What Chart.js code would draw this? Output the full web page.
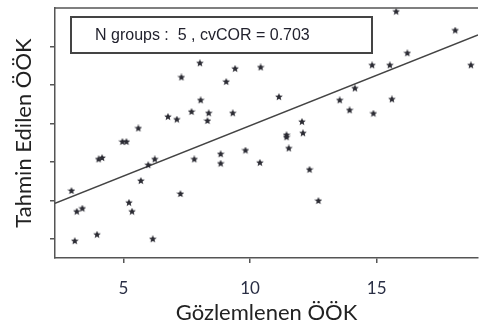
<!DOCTYPE html>
<html lang="tr">
<head>
    <meta charset="UTF-8">
    <title>Gözlemlenen / Tahmin Edilen ÖÖK</title>
    <script src="https://cdn.jsdelivr.net/npm/chart.js"></script>
    <style>
        body {
            margin: 0;
            background: #fff;
            overflow: hidden;
        }
        canvas {
            display: block;
        }
    </style>
</head>
<body>
    <canvas id="scatter" width="483" height="331"></canvas>

    <script>
        // Gözlemlenen (x) ve tahmin edilen (y) değerler
        var observed = [
            8.02, 7.29, 9.41, 9.06, 8.05, 7.69, 8.37, 8.32, 9.32, 6.76,
            7.11, 5.59, 4.96, 5.12, 4.02, 4.16, 5.98, 6.24, 7.80, 8.84,
            8.84, 9.82, 10.42, 11.14, 13.54, 12.05, 12.09, 11.44, 11.44, 11.53,
            10.39, 12.35, 12.70, 15.77, 18.10, 16.21, 14.82, 15.52, 18.72, 14.14,
            15.60, 13.93, 14.87, 5.69, 2.95, 7.25, 5.22, 3.16, 3.38, 5.34,
            3.96, 3.08, 6.16
        ];
        var predicted = [
            13.13, 12.39, 12.84, 12.16, 11.20, 10.60, 10.53, 10.13, 10.53, 10.34,
            10.20, 9.74, 9.04, 9.04, 8.13, 8.20, 7.83, 8.13, 8.13, 8.40,
            7.91, 8.59, 12.91, 11.37, 11.20, 10.08, 9.49, 9.39, 9.28, 8.70,
            7.95, 7.59, 5.97, 15.81, 14.83, 13.65, 13.02, 13.02, 13.02, 11.82,
            11.25, 10.68, 10.51, 7.01, 6.49, 6.33, 5.87, 5.41, 5.57, 5.41,
            4.21, 3.88, 3.98
        ];

        // Regresyon doğrusunun uç noktaları
        var fitX = [2.3, 19];
        var fitY = [5.84, 14.6];

        var xTicks = [5, 10, 15];
        var yTicks = [4, 6, 8, 10, 12, 14];
        var noteText = 'N groups :  5 , cvCOR = 0.703';

        // Küçük dolu yıldız işareti
        function makeStar(size, color) {
            var c = document.createElement('canvas');
            c.width = size; c.height = size;
            var g = c.getContext('2d');
            var cx = size / 2, cy = size / 2, R = size / 2, r = R * 0.45;
            g.beginPath();
            for (var i = 0; i < 10; i++) {
                var ang = -Math.PI / 2 + i * Math.PI / 5;
                var rad = (i % 2 === 0) ? R : r;
                g.lineTo(cx + rad * Math.cos(ang), cy + rad * Math.sin(ang));
            }
            g.closePath();
            g.fillStyle = color;
            g.fill();
            return c;
        }
        var star = makeStar(8, '#2b2b33');

        var points = observed.map(function(v, i) {
            return { x: v, y: predicted[i] };
        });
        var fitLine = fitX.map(function(v, i) {
            return { x: v, y: fitY[i] };
        });

        // Üst çerçeve çizgisi ve bilgi kutusu
        var frameAndNote = {
            id: 'frameAndNote',
            afterDraw: function(chart) {
                var ctx = chart.ctx, a = chart.chartArea;
                ctx.save();
                ctx.strokeStyle = '#555';
                ctx.lineWidth = 1.5;
                ctx.beginPath();
                ctx.moveTo(a.left, a.top);
                ctx.lineTo(a.right, a.top);
                ctx.stroke();

                ctx.strokeStyle = '#444';
                ctx.lineWidth = 2;
                ctx.strokeRect(a.left + 16, a.top + 9, 301, 36);
                ctx.fillStyle = '#22222e';
                ctx.font = '16px "Liberation Sans", Arial, sans-serif';
                ctx.textBaseline = 'middle';
                ctx.fillText(noteText, a.left + 40, a.top + 28);
                ctx.restore();
            }
        };

        var axisFont = { family: 'Lato, "Open Sans", sans-serif' };

        new Chart(document.getElementById('scatter').getContext('2d'), {
            type: 'scatter',
            data: {
                datasets: [{
                    label: 'ÖÖK',
                    data: points,
                    pointStyle: star,
                    pointRadius: 4,
                    borderColor: '#2b2b33',
                    backgroundColor: '#2b2b33'
                }, {
                    type: 'line',
                    label: 'fit',
                    data: fitLine,
                    borderColor: '#444',
                    borderWidth: 1.5,
                    pointRadius: 0,
                    fill: false
                }]
            },
            options: {
                responsive: false,
                animation: false,
                devicePixelRatio: 1,
                layout: { padding: { top: 8, right: 0, left: 0, bottom: 0 } },
                plugins: {
                    legend: { display: false },
                    tooltip: { enabled: false }
                },
                scales: {
                    x: {
                        type: 'linear',
                        min: 2.3,
                        max: 19,
                        afterFit: function(s) { s.height = 73; },
                        afterBuildTicks: function(s) {
                            s.ticks = xTicks.map(function(v) { return { value: v }; });
                        },
                        grid: { drawOnChartArea: false, drawTicks: true, tickLength: 5, color: '#555', lineWidth: 1.5 },
                        border: { display: true, color: '#555', width: 1.5 },
                        ticks: {
                            color: '#2a2f45',
                            padding: 15,
                            font: Object.assign({ size: 17 }, axisFont)
                        },
                        title: {
                            display: true,
                            text: 'Gözlemlenen ÖÖK',
                            color: '#222',
                            padding: { top: 0, bottom: 5 },
                            font: Object.assign({ size: 22 }, axisFont)
                        }
                    },
                    y: {
                        type: 'linear',
                        min: 3,
                        max: 16,
                        afterFit: function(s) { s.width = 55; },
                        afterBuildTicks: function(s) {
                            s.ticks = yTicks.map(function(v) { return { value: v }; });
                        },
                        grid: { drawOnChartArea: false, drawTicks: true, tickLength: 5, color: '#555', lineWidth: 1.5 },
                        border: { display: true, color: '#555', width: 1.5 },
                        ticks: { display: false },
                        title: {
                            display: true,
                            text: 'Tahmin Edilen ÖÖK',
                            color: '#222',
                            padding: { top: 11, bottom: 0 },
                            font: Object.assign({ size: 22 }, axisFont)
                        }
                    }
                }
            },
            plugins: [frameAndNote]
        });
    </script>
</body>
</html>
